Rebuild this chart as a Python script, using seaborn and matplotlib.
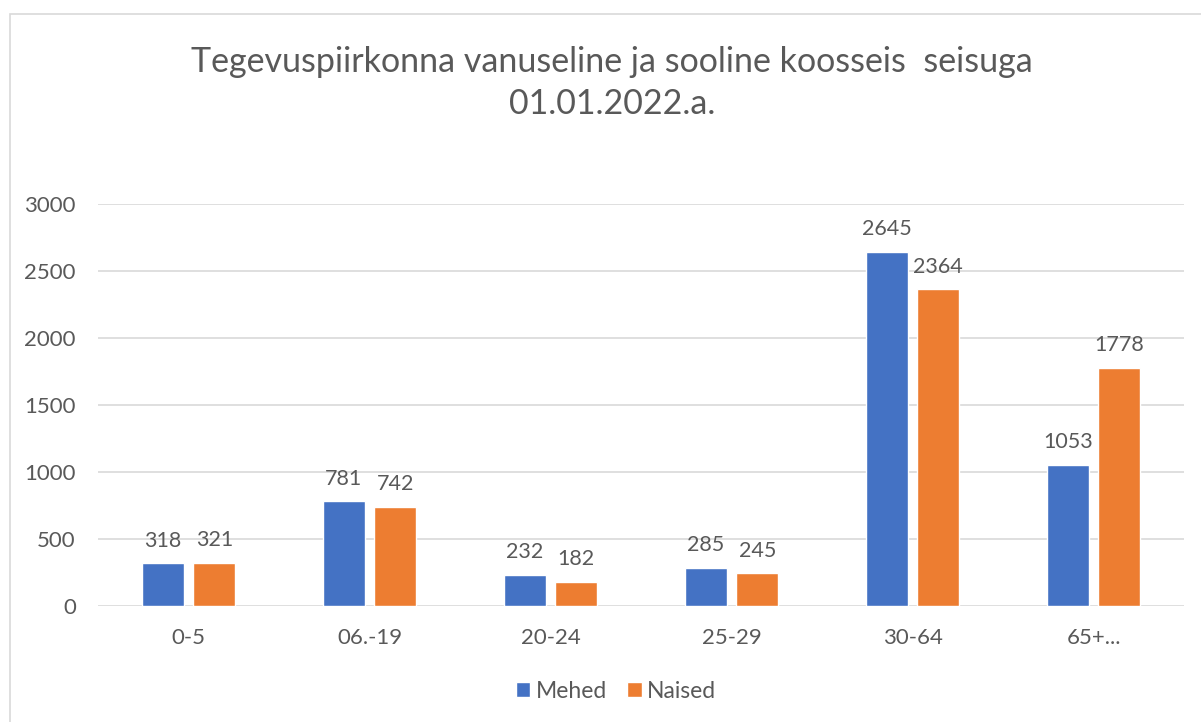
import pandas as pd
import matplotlib.pyplot as plt
import seaborn as sns
from matplotlib.patches import Rectangle

# values
age_groups = ["0-5", "06.-19", "20-24", "25-29", "30-64", "65+..."]
mehed = [318, 781, 232, 285, 2645, 1053]
naised = [321, 742, 182, 245, 2364, 1778]

df = pd.DataFrame({
    "Vanus": age_groups * 2,
    "Sugu": ["Mehed"] * len(age_groups) + ["Naised"] * len(age_groups),
    "Arv": mehed + naised,
})

sns.set_style("white")
plt.rcParams["font.family"] = ["Lato", "DejaVu Sans"]
text_col = "#595959"
grid_col = "#D9D9D9"

fig = plt.figure(figsize=(12.01, 7.22), dpi=100)
fig.patches.append(Rectangle((10 / 1201, -0.05), 1.2, 1 - 14 / 722 + 0.05,
                             transform=fig.transFigure, fill=False,
                             edgecolor=grid_col, linewidth=1.2))
ax = fig.add_axes([98 / 1201, 1 - 606 / 722, (1184 - 98) / 1201, (606 - 204) / 722])

sns.barplot(data=df, x="Vanus", y="Arv", hue="Sugu",
            palette={"Mehed": "#4472C4", "Naised": "#ED7D31"}, saturation=1,
            width=0.569, gap=0.194, ax=ax, legend=True)

for cont in ax.containers:
    ax.bar_label(cont, padding=9, fontsize=15.5, color=text_col)

ax.set_ylim(0, 3000)
ax.set_yticks(range(0, 3001, 500))
ax.yaxis.grid(True, color=grid_col, linewidth=1.2)
ax.set_axisbelow(True)
sns.despine(ax=ax, left=True, top=True, right=True, bottom=True)
ax.tick_params(axis="both", length=0, labelsize=16, labelcolor=text_col)
ax.tick_params(axis="y", pad=16)
ax.tick_params(axis="x", pad=16)
ax.set_xlabel("")
ax.set_ylabel("")

fig.text(612 / 1201, 1 - 83 / 722, "Tegevuspiirkonna vanuseline ja sooline koosseis  seisuga\n01.01.2022.a.",
         ha="center", va="center", fontsize=24.5, color=text_col, linespacing=1.35)

ax.legend(loc="center", bbox_to_anchor=((616 - 98) / 1086, (606 - 691) / (606 - 204)),
          ncol=2, frameon=False, fontsize=16.5, labelcolor=text_col,
          handlelength=0.62, handleheight=0.62, handletextpad=0.25, columnspacing=0.9)

fig.savefig("out.png", dpi=100)
